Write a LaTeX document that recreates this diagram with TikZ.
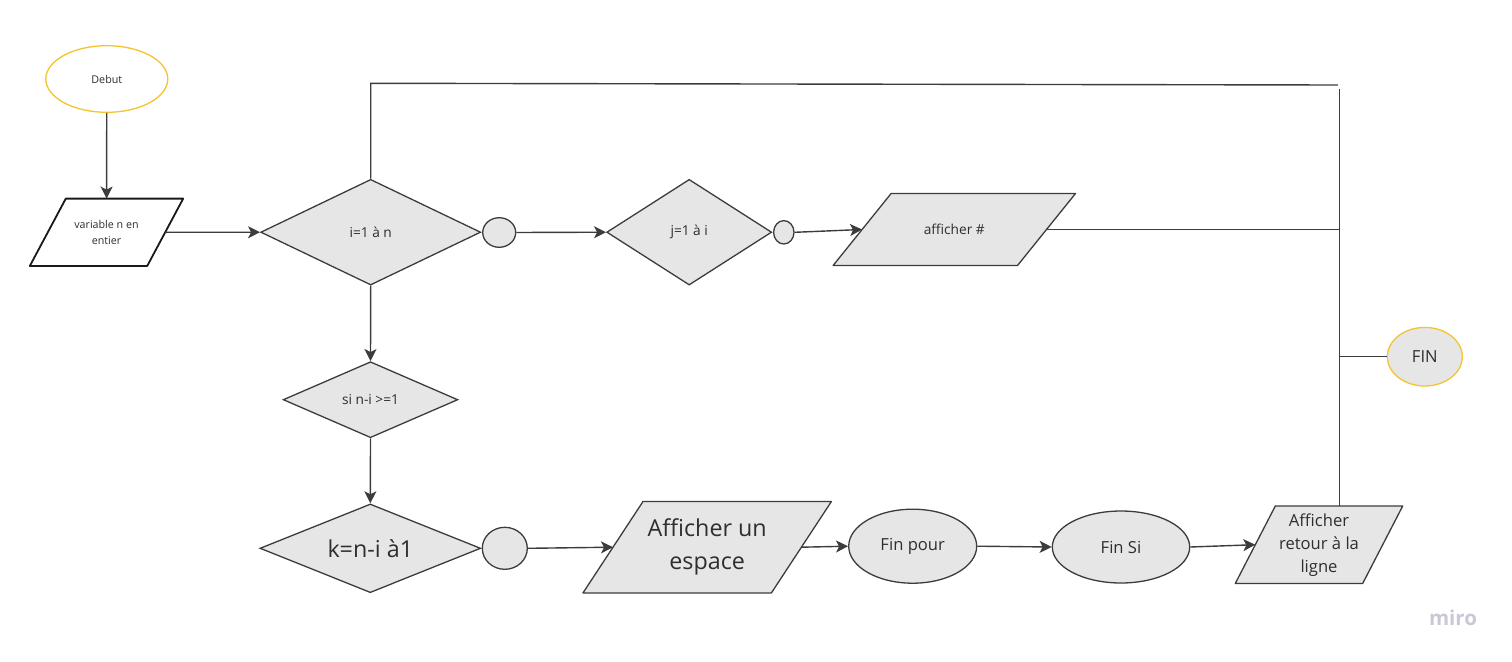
\documentclass[tikz,border=0pt]{standalone}
\usepackage{fontspec}
\setmainfont{Open Sans}
\usetikzlibrary{shapes.geometric,arrows.meta,backgrounds}
\definecolor{lc}{HTML}{3C3C3C}
\definecolor{fg}{HTML}{E6E6E6}
\definecolor{yl}{HTML}{F4C430}
\definecolor{mirog}{HTML}{C9C8D6}
\definecolor{tc}{HTML}{2E2E2E}
\newcommand\paraoutline[3]{%
  \begin{scope}[on background layer]
    \draw[#3] ([xshift=#2]#1.north west) -- ([xshift=#2]#1.north east)
      -- ([xshift=-#2]#1.south east) -- ([xshift=-#2]#1.south west) -- cycle;
  \end{scope}}
\begin{document}
\begin{tikzpicture}[x=1pt,y=-1pt,
  line/.style={draw=lc,line width=1.4pt},
  arr/.style={line,-{Stealth[length=12pt,width=12pt,inset=3pt]}},
  shp/.style={draw=lc,line width=1.3pt,fill=fg,inner sep=0pt,text=tc},
  dia/.style={shp,diamond},
  ell/.style={shp,ellipse},
  ptext/.style={rectangle,draw=none,inner sep=0pt,align=center,text=tc},
  pshape/.style={draw=lc,line width=1.3pt,fill=fg,line join=round},
  fsa/.style={font=\fontsize{10.7}{16}\selectfont},
  fsb/.style={font=\fontsize{13.7}{18}\selectfont},
  fsc/.style={font=\fontsize{16.6}{23}\selectfont},
  fsd/.style={font=\fontsize{23.3}{33}\selectfont},
]
\useasboundingbox (0,0) rectangle (1512,661);

% start / end
\node[ell,fill=white,draw=yl,fsa,minimum width=122pt,minimum height=66.6pt] (deb) at (106.8,79) {Debut};
\node[ell,draw=yl,fsc,minimum width=75pt,minimum height=58.6pt] (fin) at (1424.8,356.7) {FIN};

% parallelograms
\node[ptext,fsa,minimum width=117pt,minimum height=67pt] (var) at (106.5,232.3) {variable n en\\entier};
\paraoutline{var}{18pt}{draw=black!90,line width=1.8pt,fill=white,line join=round}
\node[ptext,fsb,minimum width=184pt,minimum height=71.6pt] (aff) at (954.3,229.5) {afficher \#};
\paraoutline{aff}{29pt}{pshape}
\node[ptext,fsd,minimum width=188pt,minimum height=91pt] (esp) at (707.2,547.2) {Afficher un\\espace};
\paraoutline{esp}{30pt}{pshape}
\node[ptext,fsc,minimum width=127pt,minimum height=77pt] (ret) at (1319,544.7) {Afficher\\retour à la\\ligne};
\paraoutline{ret}{20pt}{pshape}

% diamonds
\node[dia,fsb,aspect=2.08,minimum width=220pt,minimum height=105.7pt] (i) at (370.7,232.2) {i=1 à n};
\node[dia,fsb,aspect=1.56,minimum width=165pt,minimum height=105.7pt] (j) at (689.2,232.2) {j=1 à i};
\node[dia,fsb,aspect=2.3,minimum width=174.7pt,minimum height=76pt] (si) at (370.5,399.7) {si n-i >=1};
\node[dia,fsd,aspect=2.49,minimum width=220.7pt,minimum height=88.7pt] (k) at (370.3,548.3) {k=n-i à1};

% small connector circles
\node[ell,minimum width=33pt,minimum height=29.6pt] (c1) at (499.2,232.5) {};
\node[ell,minimum width=20.4pt,minimum height=23.4pt] (c2) at (783.8,232.3) {};
\node[ell,minimum width=45pt,minimum height=42pt] (c3) at (504.8,548.3) {};

% ellipses
\node[ell,fsc,minimum width=128pt,minimum height=74pt] (fp) at (912.7,546.2) {Fin pour};
\node[ell,fsc,minimum width=137.4pt,minimum height=72pt] (fs) at (1121,547) {Fin Si};

% coordinates of the frame
\coordinate (tl) at (370.7,83.3);
\coordinate (tr) at (1338,85);
\coordinate (vt) at (1339.5,88.5);
\coordinate (vf) at (1339.5,356.7);

% connectors
\draw[arr] (deb) -- (var);
\draw[arr] (var.east) -- (i.west);
\draw[arr] (c1.east) -- (j.west);
\draw[arr] (c2.east) -- (aff.west);
\draw[line] (aff.east) -- (vt |- aff.east);
\draw[line] (i.north) -- (tl) -- (tr);
\draw[line] (vt) -- (vt |- ret.north);
\draw[line] (vf) -- (fin.west);
\draw[arr] (i.south) -- (si.north);
\draw[arr] (si.south) -- (k.north);
\draw[arr] (c3.east) -- (esp.west);
\draw[arr] (esp.east) -- (fp.west);
\draw[arr] (fp.east) -- (fs.west);
\draw[arr] (fs.east) -- (ret.west);

% watermark
\node[text=mirog,font=\fontsize{20.5}{24}\selectfont\bfseries] (miro) at (1453,618) {miro};
\end{tikzpicture}
\end{document}
